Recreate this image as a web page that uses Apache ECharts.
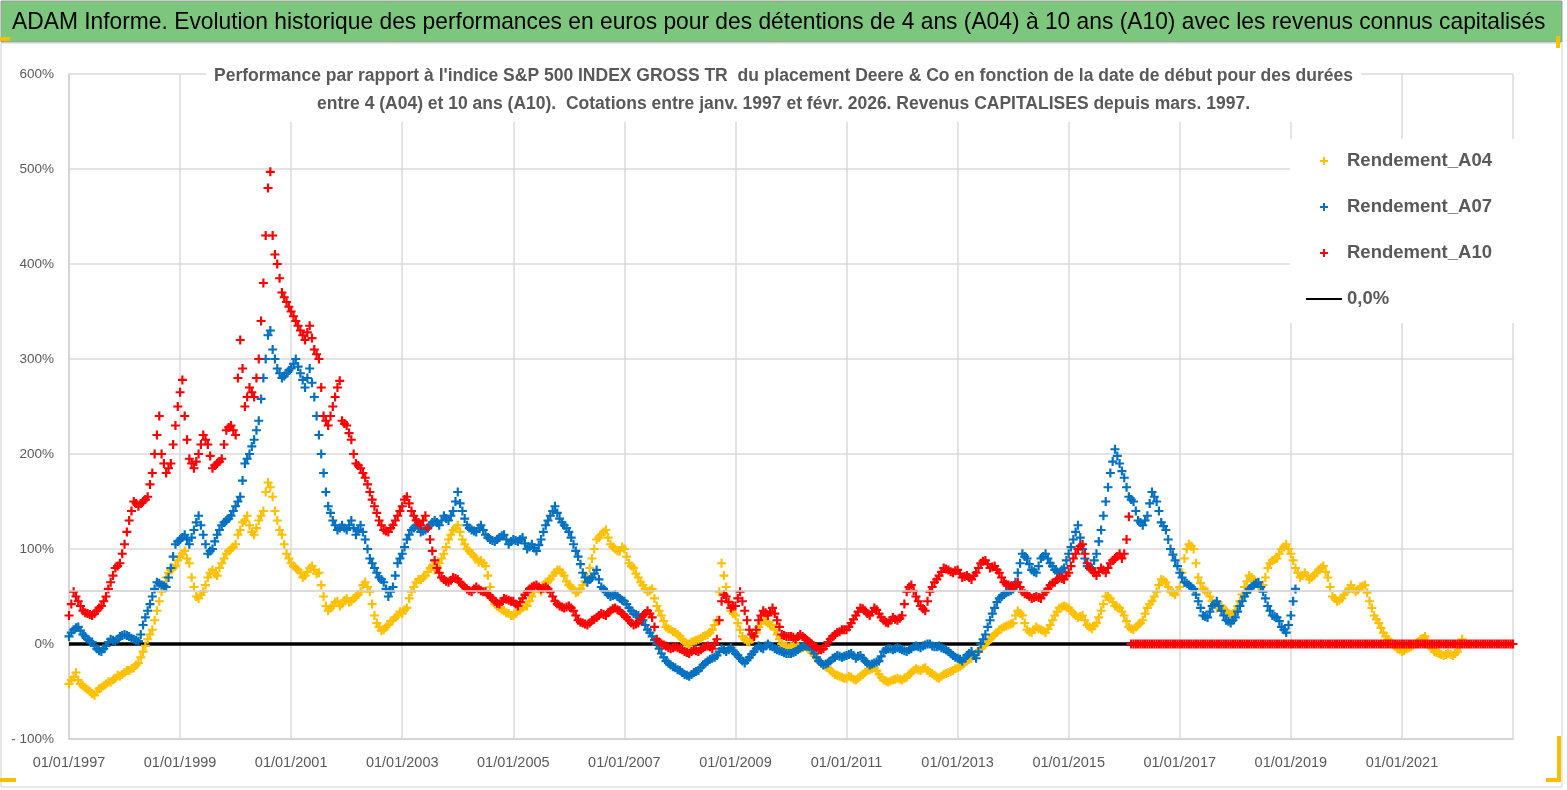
<!DOCTYPE html>
<html>
<head>
<meta charset="utf-8">
<script src="https://cdn.jsdelivr.net/npm/echarts@6/dist/echarts.min.js"></script>
<style>
html,body{margin:0;padding:0;background:#fff;}
#c{width:1567px;height:790px;}
</style>
</head>
<body>
<div id="c"></div>
<script>
// ---- DATA ----
// Readings at the start of each month (first value = Jan 1997) and at mid-month (…Mid arrays).
const startYear = 1997;
const xTickMin = 1997, xTickMax = 2023, xTickStep = 2;
const yTicks = [-100, 0, 100, 200, 300, 400, 500, 600];
const seriesNames = ['Rendement_A04', 'Rendement_A07', 'Rendement_A10', '0,0%'];
const mainTitle = 'ADAM Informe. Evolution historique des performances en euros pour des détentions de 4 ans (A04) à 10 ans (A10) avec les revenus connus capitalisés';
const subTitle = "Performance par rapport à l'indice S&P 500 INDEX GROSS TR  du placement Deere & Co en fonction de la date de début pour des durées\nentre 4 (A04) et 10 ans (A10).  Cotations entre janv. 1997 et févr. 2026. Revenus CAPITALISES depuis mars. 1997.";

const a04 = [
  -42,-35,-38,-44,-48,-52,-50,-46,-42,-40,-36,-34,
  -30,-28,-25,-20,-8,5,15,35,55,70,78,82,
  92,98,85,60,48,55,70,78,72,85,95,100,
  105,120,130,125,115,130,140,170,155,130,115,95,
  85,80,75,72,80,78,75,50,35,40,45,42,
  48,45,50,55,65,55,30,18,15,20,25,30,
  32,38,55,65,68,72,80,78,85,95,110,120,
  125,110,100,95,90,88,82,60,42,38,35,32,
  30,35,38,40,50,60,55,65,68,75,78,72,
  62,58,55,62,70,90,110,115,120,105,100,98,
  100,85,80,70,62,55,58,40,30,18,15,12,
  8,2,0,3,5,8,10,15,25,85,60,35,
  30,15,5,2,8,18,25,22,20,10,0,-2,
  -3,0,-5,-2,-6,-12,-18,-22,-25,-30,-33,-35,
  -36,-35,-38,-34,-30,-27,-25,-32,-38,-40,-38,-36,
  -38,-35,-30,-26,-28,-25,-30,-33,-36,-32,-30,-28,
  -25,-22,-18,-15,-10,-5,0,5,10,15,18,20,
  22,35,30,15,12,18,15,12,20,30,38,40,
  38,32,28,30,20,16,22,35,50,48,40,38,
  30,18,15,20,25,38,45,55,68,65,55,52,
  60,90,105,100,70,58,55,45,38,40,35,30,
  35,45,60,72,68,60,62,80,88,90,100,105,
  95,80,70,75,68,72,78,82,70,50,45,48,
  55,62,55,60,62,45,30,22,12,5,0,-5,
  -8,-5,-3,0,5,8,-2,-8,-10,-12,-10,-12,
  -8,5
];
const a04Mid = [
  -38,-30,-42,-46,-50,-54,-47,-44,-40,-38,-33,-32,
  -28,-26,-22,-14,-2,10,25,45,62,75,80,88,
  95,90,70,50,52,62,75,74,80,90,98,102,
  115,128,135,118,122,135,160,165,140,120,105,90,
  82,78,70,76,82,74,62,40,38,44,40,46,
  44,48,52,62,60,42,22,14,18,24,28,34,
  36,48,60,68,70,76,82,82,90,102,115,122,
  118,105,98,92,86,85,72,48,40,36,33,30,
  32,36,40,45,55,58,62,66,72,78,75,66,
  60,54,58,66,80,100,112,118,112,102,98,102,
  92,82,74,65,58,56,48,35,24,16,13,10,
  5,0,2,4,6,9,12,20,55,72,45,32,
  22,8,3,5,12,22,24,20,15,5,-2,-4,
  -1,-3,-4,-4,-9,-15,-20,-24,-28,-32,-34,-36,
  -34,-37,-36,-32,-28,-26,-28,-35,-39,-39,-37,-37,
  -36,-32,-28,-27,-26,-28,-31,-35,-34,-31,-29,-26,
  -24,-20,-16,-12,-8,-2,2,8,12,16,19,21,
  30,32,22,13,15,16,14,16,25,34,39,39,
  35,30,29,25,18,19,28,42,50,44,39,34,
  24,16,18,22,32,42,50,62,67,60,54,56,
  75,100,103,85,64,56,50,42,39,37,32,32,
  40,52,66,70,64,61,70,85,89,95,102,100,
  88,75,72,72,70,75,80,76,60,48,46,52,
  58,58,57,61,54,38,26,17,8,2,-3,-6,
  -7,-4,-1,2,6,3,-5,-9,-11,-11,-11,-10,
  -2
];

const a07 = [
  8,15,18,10,5,2,-5,-8,-2,5,3,8,
  10,8,5,3,20,35,50,65,62,60,80,105,
  110,115,105,120,135,115,95,100,115,125,130,135,
  145,155,190,200,215,235,280,325,310,290,280,285,
  290,300,285,270,290,260,220,180,145,130,120,125,
  120,130,115,125,110,90,80,70,65,50,60,85,
  95,110,120,125,118,120,125,130,125,135,130,140,
  160,140,125,120,118,125,115,110,108,112,115,105,
  110,108,112,100,105,98,110,125,135,145,132,125,
  118,105,92,75,65,70,78,60,55,50,52,48,
  45,38,32,30,25,15,8,0,-10,-18,-22,-25,
  -28,-32,-34,-30,-28,-22,-18,-15,-12,-5,-8,-4,
  -10,-15,-20,-14,-8,-2,-5,0,-3,-6,-8,-10,
  -10,-8,-4,-2,-3,-10,-18,-22,-20,-15,-12,-14,
  -12,-10,-15,-12,-18,-22,-20,-18,-8,-5,-6,-4,
  -6,-8,-5,-2,-4,-1,0,-3,-2,-5,-8,-12,
  -15,-18,-12,-8,-15,0,10,25,38,48,52,55,
  58,75,95,90,78,75,90,95,85,78,75,80,
  95,110,125,100,82,80,95,120,150,180,205,190,
  175,155,150,130,125,135,160,150,128,120,100,88,
  75,65,62,58,45,30,28,40,45,35,25,22,
  28,40,50,58,62,65,55,40,30,28,18,12,
  30,58
];
const a07Mid = [
  12,17,14,8,3,-2,-7,-5,2,4,5,9,
  9,6,4,10,28,42,58,64,61,70,92,108,
  112,110,112,128,125,105,98,108,120,128,132,140,
  150,172,195,208,225,258,300,330,300,285,282,288,
  295,292,278,280,275,240,200,160,138,125,122,122,
  125,122,120,118,100,85,75,68,58,55,72,90,
  102,115,122,122,119,122,128,128,130,132,135,150,
  148,132,122,119,122,120,112,109,110,114,110,108,
  109,110,106,102,101,104,118,130,140,138,128,122,
  112,98,84,70,68,74,68,58,52,51,50,46,
  42,35,31,28,20,12,4,-5,-14,-20,-24,-27,
  -30,-33,-32,-29,-25,-20,-16,-14,-8,-6,-6,-7,
  -12,-18,-17,-11,-5,-4,-2,-2,-5,-7,-9,-10,
  -9,-6,-3,-2,-6,-14,-20,-21,-18,-14,-13,-13,
  -11,-12,-13,-15,-20,-21,-19,-13,-6,-5,-5,-5,
  -7,-6,-3,-3,-2,0,-2,-3,-4,-6,-10,-14,
  -16,-15,-10,-12,-8,5,18,32,44,50,54,56,
  65,85,92,84,76,82,92,90,82,76,78,88,
  102,118,112,90,81,88,108,135,165,192,198,182,
  165,152,140,128,130,148,155,140,124,110,94,82,
  70,64,60,52,38,29,34,42,40,30,24,25,
  34,45,54,60,64,60,48,35,29,24,15,20,
  45
];

const a10 = [
  30,55,45,35,32,30,35,40,50,65,80,85,
  105,130,150,145,150,155,180,220,200,180,190,230,
  265,240,195,185,200,220,210,185,190,195,225,230,
  220,320,250,270,260,300,380,480,430,400,370,360,
  350,340,330,320,335,310,300,240,230,250,270,235,
  230,215,190,185,175,160,145,130,120,118,125,135,
  145,155,140,130,125,135,110,88,75,68,65,70,
  68,62,58,55,60,56,55,50,45,42,48,46,
  45,40,48,55,60,62,58,60,55,45,40,38,
  40,35,25,22,20,25,28,32,30,35,38,35,
  30,25,20,22,30,35,28,5,0,-2,-5,-3,
  -5,-8,-10,-6,-8,-4,-2,-5,5,45,50,38,
  40,55,35,15,8,25,35,30,38,25,10,8,
  8,5,10,6,2,-2,-6,-5,2,8,12,15,
  15,22,30,38,35,30,38,32,25,22,28,25,
  30,55,62,50,40,35,55,65,72,80,78,75,
  78,70,72,68,75,85,88,80,82,75,65,62,
  60,65,55,52,48,50,48,55,62,65,70,68,
  75,90,100,105,85,78,72,80,75,85,90,95,
  95,134,0,0,0,0,0,0,0,0,0,0,
  0,0,0,0,0,0,0,0,0,0,0,0,
  0,0,0,0,0,0,0,0,0,0,0,0,
  0,0,0,0,0,0,0,0,0,0,0,0,
  0,0,0,0,0,0,0,0,0,0,0,0,
  0,0,0,0,0,0,0,0,0,0,0,0,
  0,0,0,0,0,0,0,0,0,0,0,0,
  0
];
const a10Mid = [
  42,50,40,33,31,32,38,45,58,72,82,95,
  118,140,148,148,152,168,200,240,190,185,210,250,
  278,215,190,192,210,215,198,188,192,210,228,225,
  280,290,260,265,280,340,430,497,410,385,365,355,
  345,335,325,328,322,305,270,235,240,260,277,232,
  222,200,188,180,168,152,138,125,119,122,130,140,
  152,148,135,128,130,122,98,80,70,66,67,69,
  65,60,56,58,58,55,52,48,43,45,47,45,
  42,44,52,58,61,60,59,58,50,42,39,39,
  38,30,23,21,22,26,30,31,33,37,36,32,
  28,22,21,26,32,32,18,2,-1,-4,-4,-4,
  -6,-9,-8,-7,-6,-3,-3,0,25,52,44,40,
  48,45,25,10,15,30,33,34,32,18,9,8,
  7,8,8,4,0,-4,-6,-2,5,10,13,15,
  18,26,34,37,32,34,36,28,23,25,26,27,
  42,60,56,45,37,45,60,68,76,79,76,77,
  74,71,70,72,80,87,84,81,78,70,63,61,
  62,60,53,50,49,49,52,58,64,68,69,72,
  82,95,103,95,80,75,76,78,80,88,92,90,
  110,0,0,0,0,0,0,0,0,0,0,0,
  0,0,0,0,0,0,0,0,0,0,0,0,
  0,0,0,0,0,0,0,0,0,0,0,0,
  0,0,0,0,0,0,0,0,0,0,0,0,
  0,0,0,0,0,0,0,0,0,0,0,0,
  0,0,0,0,0,0,0,0,0,0,0,0,
  0,0,0,0,0,0,0,0,0,0,0,0
];

const zeroLineX = [1997, 2023];
const zeroLineY = [0, 0];
const refLineValue = 56;

// ---- BUILD ----
const toPoints = (vals, offset) => vals.map((v, i) => [startYear + (i + offset) / 12, v]);
const plus = 'path://M3.4,0H5.6V3.4H9V5.6H5.6V9H3.4V5.6H0V3.4H3.4Z';
const SANS = "'Liberation Sans',Arial,sans-serif";
const grey = '#595959';

const chart = echarts.init(document.getElementById('c'), null, {renderer: 'canvas'});

function scatter(name, vals, mid, color, z) {
  return {
    name: name, type: 'scatter', z: z,
    data: toPoints(vals, 0).concat(toPoints(mid, 0.5)),
    symbol: plus, symbolSize: 9, symbolKeepAspect: true,
    itemStyle: {color: color, opacity: 1}, clip: false, silent: true
  };
}

chart.setOption({
  animation: false,
  backgroundColor: '#fff',
  graphic: [
    {type: 'rect', shape: {x: 1, y: 1, width: 1561, height: 41}, style: {fill: '#7cc67d', stroke: '#9a9a9a', lineWidth: 1}, z: -10},
    {type: 'rect', shape: {x: 1, y: 43, width: 1561, height: 744}, style: {fill: 'none', stroke: '#d0d0d0', lineWidth: 1}, z: -10},
    {type: 'text', x: 12, y: 22, scaleX: 0.95, originX: 0,
     style: {text: mainTitle, fontFamily: SANS, fontSize: 24, fill: '#000', verticalAlign: 'middle', align: 'left'}},
    {type: 'rect', shape: {x: 0, y: 37, width: 10, height: 4}, style: {fill: '#f5c000'}},
    {type: 'rect', shape: {x: 0, y: 778, width: 16, height: 4}, style: {fill: '#f5c000'}},
    {type: 'rect', shape: {x: 1556, y: 36, width: 4, height: 12}, style: {fill: '#f5c000'}},
    {type: 'rect', shape: {x: 1557, y: 736, width: 4, height: 46}, style: {fill: '#f5c000'}},
    {type: 'rect', shape: {x: 1546, y: 778, width: 14, height: 4}, style: {fill: '#f5c000'}}
  ],
  title: [
    {
      text: subTitle,
      left: 'center', top: 60,
      backgroundColor: '#fff', padding: [2, 8, 4, 8],
      textStyle: {fontFamily: SANS, fontSize: 17.5, fontWeight: 'bold', color: grey, lineHeight: 28}
    }
  ],
  legend: {
    orient: 'vertical', left: 1290, top: 139,
    backgroundColor: '#fff', padding: [12, 28, 14, 15],
    itemWidth: 36, itemHeight: 8, itemGap: 26,
    data: seriesNames,
    textStyle: {fontFamily: SANS, fontSize: 18.5, fontWeight: 'bold', color: grey, lineHeight: 20}
  },
  grid: {left: 69, right: 54, top: 74, bottom: 51},
  xAxis: {
    type: 'value', min: xTickMin, max: xTickMax, interval: xTickStep,
    axisLine: {show: true, onZero: false, lineStyle: {color: '#d0d0d0', width: 1.5}},
    axisTick: {show: false},
    splitLine: {show: true, lineStyle: {color: '#dadada', width: 1.5}},
    axisLabel: {
      showMaxLabel: false, margin: 16,
      fontFamily: SANS, fontSize: 14.5, color: grey,
      formatter: v => '01/01/' + v
    }
  },
  yAxis: {
    type: 'value', min: yTicks[0], max: yTicks[yTicks.length - 1], interval: 100,
    axisLine: {show: true, onZero: false, lineStyle: {color: '#d0d0d0', width: 1.5}},
    axisTick: {show: false},
    splitLine: {show: true, lineStyle: {color: '#dadada', width: 1.5}},
    axisLabel: {
      margin: 15,
      fontFamily: SANS, fontSize: 13.5, color: grey,
      formatter: v => v < 0 ? '- ' + (-v) + '%' : v + '%'
    }
  },
  series: [
    {
      name: '0,0%', type: 'line', data: zeroLineX.map((x, i) => [x, zeroLineY[i]]),
      symbol: 'none', lineStyle: {color: '#000', width: 3.5}, itemStyle: {color: 'rgba(0,0,0,0)'},
      silent: true, z: 1,
      markLine: {
        silent: true, symbol: 'none', label: {show: false},
        lineStyle: {color: '#cfcfcf', width: 1.5, type: 'solid'},
        data: [{yAxis: refLineValue}]
      }
    },
    scatter('Rendement_A04', a04, a04Mid, '#FFC000', 2),
    scatter('Rendement_A07', a07, a07Mid, '#0070C0', 3),
    scatter('Rendement_A10', a10, a10Mid, '#FF0000', 4)
  ]
});
</script>
</body>
</html>
